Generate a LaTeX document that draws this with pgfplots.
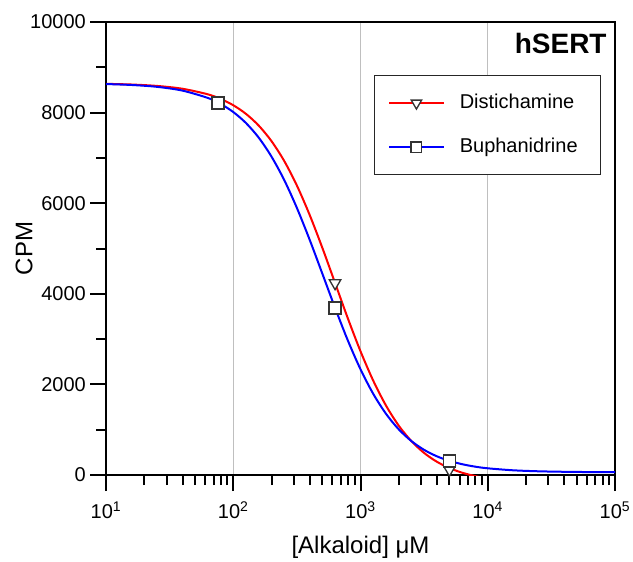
\documentclass[border=0pt]{standalone}
\usepackage{pgfplots}
\pgfplotsset{compat=1.18}
\usetikzlibrary{calc}
\usepackage{fontspec}
\setmainfont{Liberation Sans}

\begin{document}
\fontsize{15}{18}\selectfont
\begin{tikzpicture}
\begin{axis}[
    name=ax,
    scale only axis, width=381.75pt, height=339.75pt,
    xmode=log, xmin=10, xmax=100000, ymin=0, ymax=10000,
    scaled y ticks=false,
    xtick={10,100,1000,10000,100000},
    xticklabels={10\textsuperscript{1},10\textsuperscript{2},10\textsuperscript{3},10\textsuperscript{4},10\textsuperscript{5}},
    minor xtick={20,30,40,50,60,70,80,90,200,300,400,500,600,700,800,900,2000,3000,4000,5000,6000,7000,8000,9000,20000,30000,40000,50000,60000,70000,80000,90000},
    ytick={0,2000,4000,6000,8000,10000},
    yticklabels={0,2000,4000,6000,8000,10000},
    minor ytick={1000,3000,5000,7000,9000},
    tick align=outside, xtick pos=bottom, ytick pos=left,
    major tick length=12pt, minor tick length=7.5pt,
    tick style={black, line width=1.5pt},
    axis line style={line width=1.5pt},
    ticklabel style={font=\fontsize{15}{18}\selectfont},
    yticklabel style={xshift=2pt},
    xticklabel style={yshift=-3pt},
    xmajorgrids, grid style={black!25, line width=0.75pt},
    xlabel={[Alkaloid] μM}, ylabel={CPM},
    label style={font=\fontsize{18}{21}\selectfont},
    ylabel style={yshift=-12pt},
    xlabel style={yshift=-3pt},
    legend style={at={(0.9725,0.883)}, anchor=north east, draw=black!85,
        line width=1pt, row sep=20pt, column sep=11pt,
        inner xsep=10pt, inner ysep=14pt,
        nodes={inner sep=0pt},
        font=\fontsize{15}{18}\selectfont},
    legend cell align=left,
    legend image code/.code={\draw[mark repeat=2,mark phase=2,#1]
        plot coordinates {(0cm,0cm) (0.72cm,0cm) (1.45cm,0cm)};},
]
% fitted curves
\addplot[red, line width=1.5pt, smooth, forget plot] coordinates {
(10,8635) (15.85,8620) (25.12,8589) (39.81,8527) (63.10,8404) (79.43,8303)
(100,8163) (125.9,7972) (158.5,7714) (199.5,7373) (251.2,6935) (316.2,6391)
(398.1,5745) (501.2,5016) (631.0,4240) (794.3,3463) (1000,2732) (1259,2083)
(1585,1535) (1995,1092) (2512,748) (3162,487) (3981,293) (5012,152)
(6310,50) (7943,-23) (10000,-75) (15849,-138) (25119,-170) (39811,-185)
(63096,-193) (100000,-196)};
\addplot[blue, line width=1.5pt, smooth, forget plot] coordinates {
(10,8630) (15.85,8610) (25.12,8569) (39.81,8486) (63.10,8324) (79.43,8193)
(100,8013) (125.9,7770) (158.5,7448) (199.5,7032) (251.2,6515) (316.2,5897)
(398.1,5197) (501.2,4446) (631.0,3691) (794.3,2974) (1000,2334) (1259,1792)
(1585,1353) (1995,1010) (2512,749) (3162,555) (3981,413) (5012,311)
(6310,238) (7943,185) (10000,148) (15849,104) (25119,82) (39811,71)
(63096,65) (100000,63)};
% data points
\addplot[only marks, forget plot, mark=triangle*, mark size=5pt,
    mark options={fill=white, draw=black!80, line width=1pt, rotate=180}]
    coordinates {(76,8260) (631,4238) (5000,120)};
\addplot[only marks, forget plot, mark=square*, mark size=4.5pt,
    mark options={fill=white, draw=black!80, line width=1pt}]
    coordinates {(76,8212) (631,3687) (5000,309)};
\addlegendimage{red, line width=1.5pt, mark=triangle*, mark size=4.5pt,
    mark options={fill=white, draw=black!80, line width=1pt, rotate=180}}
\addlegendentry{Distichamine\hspace*{7pt}}
\addlegendimage{blue, line width=1.5pt, mark=square*, mark size=4pt,
    mark options={fill=white, draw=black!80, line width=1pt}}
\addlegendentry{Buphanidrine\hspace*{7pt}}
\node[anchor=north east, inner sep=0pt, font=\bfseries\fontsize{21}{24}\selectfont]
    at (rel axis cs:0.984,0.976) {hSERT};
\end{axis}
\pgfresetboundingbox
\path ($(ax.south west)+(-79.5pt,-64.5pt)$) rectangle ($(ax.north east)+(13.5pt,16.5pt)$);
\end{tikzpicture}
\end{document}
